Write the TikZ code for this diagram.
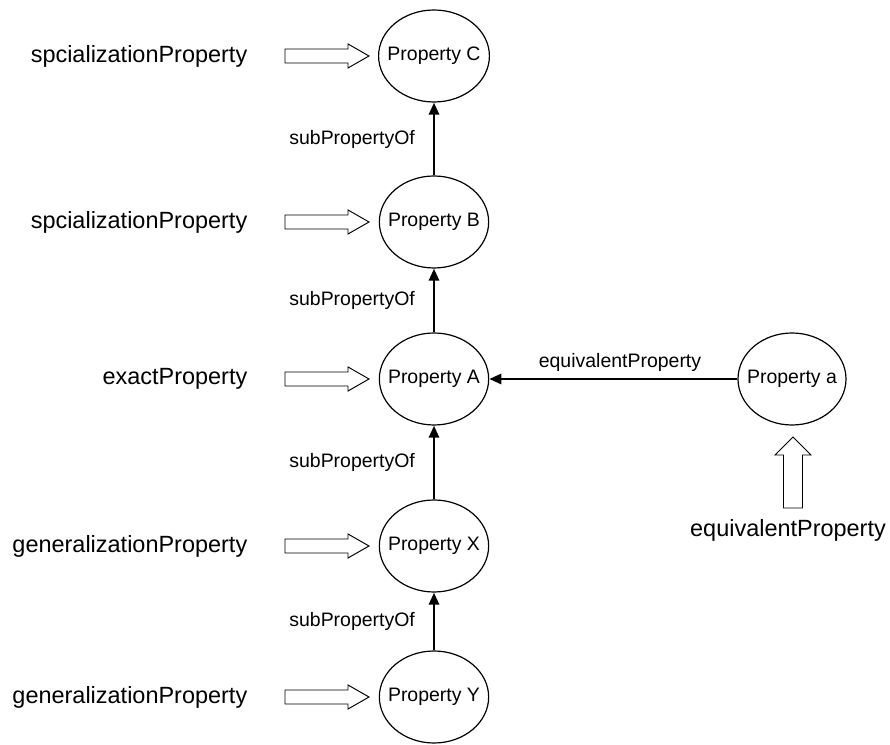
\documentclass[tikz,border=0pt]{standalone}
\usepackage{fontspec}
\setmainfont{Liberation Sans}
\usetikzlibrary{shapes.geometric, arrows.meta, positioning}

\tikzset{
  prop/.style={draw, ellipse, line width=0.9pt, minimum width=81pt, minimum height=69pt, inner xsep=-5.5pt, inner ysep=0pt, font=\fontsize{14.6}{17}\selectfont},
  kind/.style={anchor=east, font=\fontsize{17.6}{21}\selectfont},
  rel/.style={font=\fontsize{14.6}{17}\selectfont},
  link/.style={-{Triangle[length=9pt, width=7.5pt]}, line width=2pt},
  hollow/.style={draw, line width=0.7pt, fill=white},
  pics/fatright/.style={code={\draw[hollow] (0,-7) -- (63,-7) -- (63,-12) -- (84,0) -- (63,12) -- (63,7) -- (0,7) -- cycle;}},
  pics/fatup/.style={code={\draw[hollow] (-9.5,0) -- (-9.5,-53) -- (-18,-53) -- (0,-71) -- (18,-53) -- (9.5,-53) -- (9.5,0) -- cycle;}}
}

\begin{document}
\begin{tikzpicture}[x=0.75pt, y=-0.75pt]
\useasboundingbox (0,0) rectangle (890,745);

% the property chain
\node[prop] (c)  at (434,56)  {Property C};
\node[prop] (b)  at (434,222) {Property B};
\node[prop] (pa) at (434,379) {Property A};
\node[prop] (x)  at (434,546) {Property X};
\node[prop] (y)  at (434,697) {Property Y};
\node[prop] (eq) at (792,379) {Property a};

% kinds of match
\node[kind] (lc)  at (252,56)  {spcializationProperty};
\node[kind] (lb)  at (252,222) {spcializationProperty};
\node[kind] (lpa) at (252,379) {exactProperty};
\node[kind] (lx)  at (252,546) {generalizationProperty};
\node[kind] (ly)  at (252,697) {generalizationProperty};
\node[kind, anchor=center] (leq) at (788,530) {equivalentProperty};

\foreach \n in {c,b,pa,x,y}
  \path (\n) ++(-149,0) pic {fatright};
\path (leq) ++(5,-22) pic {fatup};

% relations
\draw[link] (b)  -- (c)  node[rel, midway, left=10pt] {subPropertyOf};
\draw[link] (pa) -- (b)  node[rel, midway, left=10pt] {subPropertyOf};
\draw[link] (x)  -- (pa) node[rel, midway, left=10pt] {subPropertyOf};
\draw[link] (y)  -- (x)  node[rel, midway, left=10pt] {subPropertyOf};
\draw[link] (eq) -- (pa) node[rel, midway, above=1pt, xshift=5pt] {equivalentProperty};
\end{tikzpicture}
\end{document}
